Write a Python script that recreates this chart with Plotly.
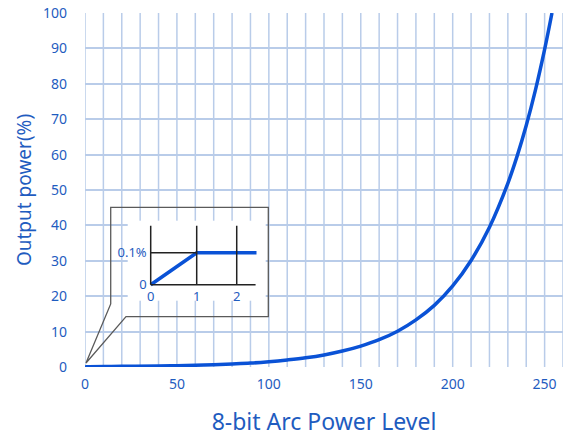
import plotly.graph_objects as go

# Main curve: values
arc_level = [0, 1, 20, 40, 50, 60, 70, 80, 90, 100, 110, 120, 130, 140, 150, 160,
             170, 180, 190, 200, 210, 220, 230, 235, 240, 245, 250, 254]
output_pct = [0, 0.1, 0.18, 0.3, 0.38, 0.5, 0.65, 0.86, 1.1, 1.5, 2.0, 2.6, 3.4, 4.5,
              5.9, 7.7, 10.1, 13.3, 17.4, 22.9, 30.1, 39.5, 51.9, 59.5, 68.2, 78.2, 89.7, 100]

# Inset (zoom of the first levels)
inset_x = [0, 1, 2.3]
inset_y = [0, 0.1, 0.1]
inset_tick_pos = [0, 1, 1.87]
inset_tick_text = ["0", "1", "2"]

BLUE = "#0a52d6"
TXT = "#1f5cc0"
GRID = "#b9cce9"
FONT = "Noto Sans"

fig = go.Figure()
fig.add_trace(go.Scatter(x=arc_level, y=output_pct, mode="lines",
                         line=dict(color=BLUE, width=3.5, shape="spline"),
                         showlegend=False, hoverinfo="skip"))
fig.add_trace(go.Scatter(x=inset_x, y=inset_y, mode="lines", xaxis="x2", yaxis="y2",
                         line=dict(color=BLUE, width=3.5), showlegend=False, hoverinfo="skip"))

W, H = 566, 437
L, R, T, B = 85, 3, 13, 70
pw, ph = W - L - R, H - T - B

def px_x(p):
    return (p - L) / pw

def px_y(p):
    return (H - B - p) / ph

# inset axes: 46 px per unit in x, 320 px per unit in y, origin at (150.7, 284.7)
ix0, iy0, sx, sy = 150.7, 284.7, 46.0, 320.0
xr = [-0.5, 2.5]
yr = [-0.05, 0.2]

fig.update_layout(
    width=W, height=H,
    margin=dict(l=L, r=R, t=T, b=B, autoexpand=False),
    paper_bgcolor="white", plot_bgcolor="white",
    font=dict(family=FONT, color=TXT, size=14),
    xaxis=dict(range=[0, 260], tickvals=[0, 50, 100, 150, 200, 250], automargin=False,
               showgrid=False, zeroline=False, showline=False,
               ticks="", ticklabelstandoff=7,
               title=dict(text="8-bit Arc Power Level", font=dict(size=23, color=TXT), standoff=21)),
    yaxis=dict(range=[0, 100], dtick=10, showgrid=True, gridcolor=GRID, gridwidth=1.5,
               automargin=False,
               zeroline=False, showline=False, ticks="", ticklabelstandoff=17,
               title=dict(text="Output power(%)", font=dict(size=19, color=TXT), standoff=6)),
    xaxis2=dict(domain=[px_x(ix0 + xr[0] * sx), px_x(ix0 + xr[1] * sx)], range=xr,
                anchor="free", position=px_y(iy0), showgrid=False, zeroline=False,
                automargin=False,
                showline=False, ticks="", tickvals=inset_tick_pos, ticktext=inset_tick_text,
                tickfont=dict(size=13, color=TXT), ticklabelstandoff=2),
    yaxis2=dict(domain=[px_y(iy0 - yr[0] * sy), px_y(iy0 - yr[1] * sy)], range=yr,
                anchor="free", position=px_x(ix0), showgrid=False, zeroline=False,
                automargin=False,
                showline=False, ticks="", tickvals=[0, 0.1], ticktext=["0", "0.1%"],
                tickfont=dict(size=13, color=TXT), ticklabelstandoff=4),
)

shapes = []
# vertical grid lines of main chart (every 10)
for v in range(0, 261, 10):
    shapes.append(dict(type="line", xref="x", yref="paper", x0=v, x1=v, y0=0, y1=1,
                       line=dict(color=GRID, width=1.5), layer="below"))
# callout box
path = "M {:.4f},{:.4f} L {:.4f},{:.4f} L {:.4f},{:.4f} L {:.4f},{:.4f} L {:.4f},{:.4f} L {:.4f},{:.4f} Z".format(
    px_x(110.7), px_y(207.3), px_x(268.3), px_y(207.3), px_x(268.3), px_y(316.7),
    px_x(126), px_y(316.7), px_x(86), px_y(363), px_x(110.7), px_y(304))
shapes.append(dict(type="path", xref="paper", yref="paper", path=path,
                   line=dict(color="#5a5a5a", width=1.3), fillcolor="rgba(0,0,0,0)"))
# inset black frame lines
blk = dict(color="#222222", width=1.5)
for v in inset_tick_pos:
    shapes.append(dict(type="line", xref="x2", yref="y2", x0=v, x1=v, y0=0, y1=0.184, line=blk))
shapes.append(dict(type="line", xref="x2", yref="y2", x0=0, x1=2.28, y0=0, y1=0, line=blk))
shapes.append(dict(type="line", xref="x2", yref="y2", x0=0, x1=1, y0=0.1, y1=0.1, line=blk))
fig.update_layout(shapes=shapes)

fig.write_html("out.html", config={"displayModeBar": False},
               post_script="document.body.style.margin='0';")
